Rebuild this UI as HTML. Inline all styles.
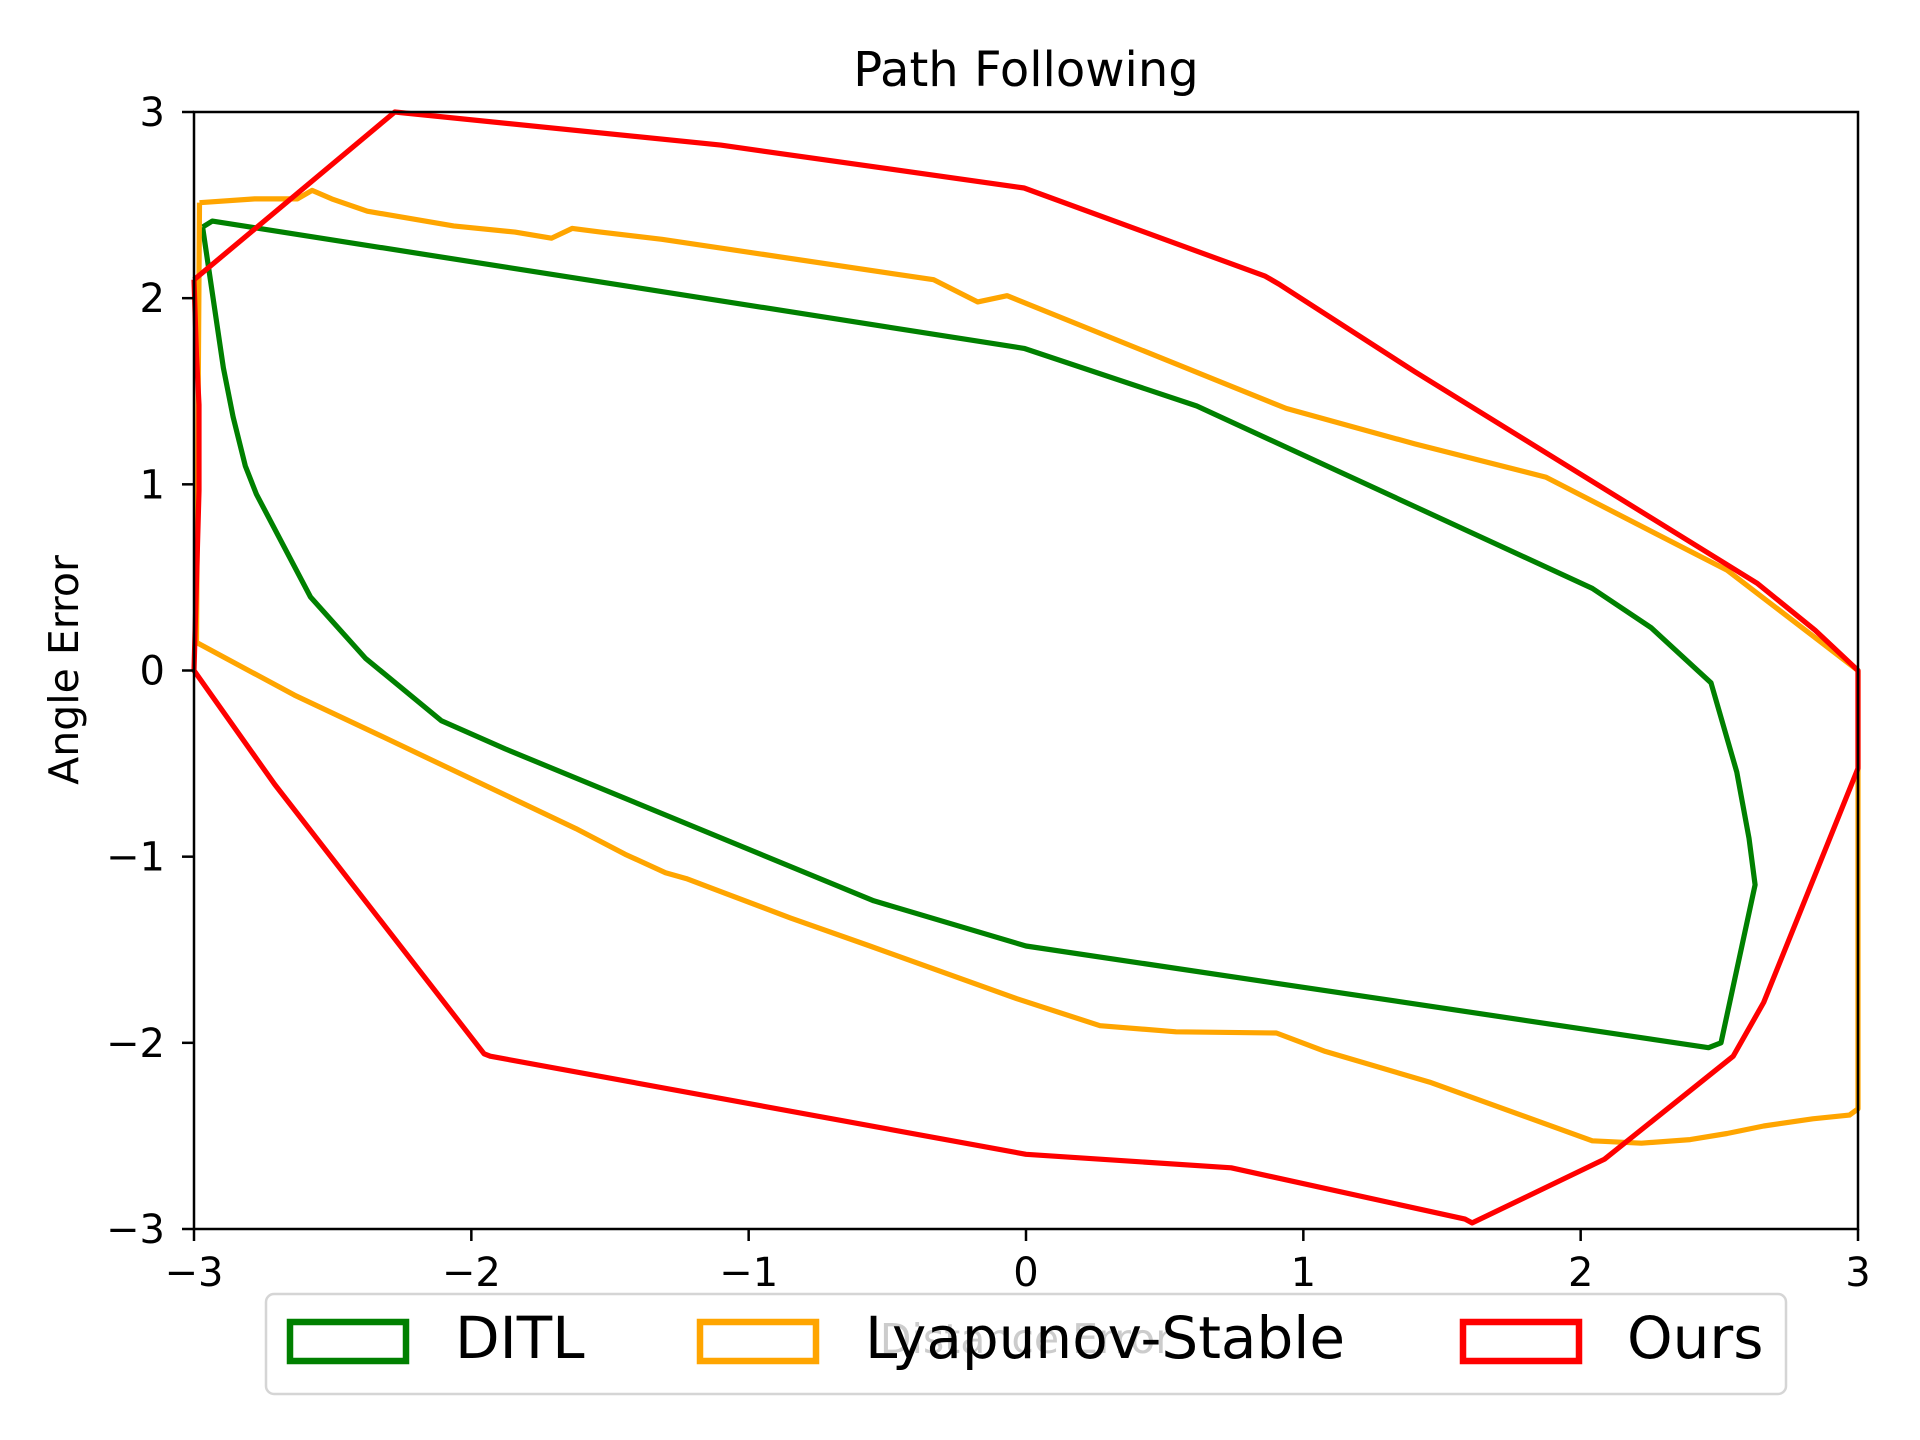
<!DOCTYPE html>
<html><head><meta charset="utf-8"><style>
html,body{margin:0;padding:0;background:#fff;}
svg{display:block;font-family:"DejaVu Sans","Liberation Sans",sans-serif;}
</style></head><body>
<svg id="chart" width="1920" height="1440" viewBox="0 0 1920 1440" xmlns="http://www.w3.org/2000/svg">
<rect width="1920" height="1440" fill="#fff"/>
<text x="1026" y="86" font-size="48" text-anchor="middle">Path Following</text>
<text x="0" y="0" font-size="41" text-anchor="middle" transform="translate(78,670) rotate(-90)">Angle Error</text>
<text x="1026" y="1353" font-size="41" text-anchor="middle">Distance Error</text>
<g id="series"></g>
<rect x="194" y="112" width="1664" height="1117" fill="none" stroke="#000" stroke-width="2.5"/>
<g id="ticks"></g>
<g>
<rect x="266" y="1294" width="1520" height="100" rx="8" fill="rgba(255,255,255,0.8)" stroke="#d5d5d5" stroke-width="2.5"/>
<rect x="290" y="1322" width="116" height="39" fill="none" stroke="green" stroke-width="6.5"/>
<text x="455" y="1358" font-size="58">DITL</text>
<rect x="700" y="1322" width="116" height="39" fill="none" stroke="orange" stroke-width="6.5"/>
<text x="865" y="1358" font-size="58">Lyapunov-Stable</text>
<rect x="1463" y="1322" width="116" height="39" fill="none" stroke="red" stroke-width="6.5"/>
<text x="1627" y="1358" font-size="58">Ours</text>
</g>
</svg>
<script>
const xTicks = [-3,-2,-1,0,1,2,3];
const yTicks = [-3,-2,-1,0,1,2,3];
const ditlX = [-2.969,-2.934,-0.007,0.616,2.042,2.254,2.470,2.563,2.607,2.629,2.506,2.461,0,-0.549,-1.878,-2.108,-2.382,-2.580,-2.775,-2.815,-2.859,-2.894,-2.969];
const ditlY = [2.382,2.414,1.730,1.421,0.441,0.230,-0.066,-0.546,-0.901,-1.151,-2.0,-2.026,-1.480,-1.237,-0.421,-0.270,0.066,0.395,0.947,1.099,1.362,1.625,2.382];
const lyapX = [-2.980,-2.781,-2.627,-2.574,-2.503,-2.375,-2.064,-1.843,-1.711,-1.636,-1.534,-1.313,-0.333,-0.174,-0.068,0.938,1.402,1.874,2.528,3.0,3.0,2.969,2.837,2.660,2.528,2.395,2.219,2.042,1.455,1.079,0.903,0.541,0.267,-0.033,-0.563,-0.850,-1.225,-1.300,-1.446,-1.623,-2.329,-2.638,-2.991,-2.980];
const lyapY = [2.513,2.533,2.533,2.579,2.533,2.467,2.388,2.355,2.322,2.375,2.355,2.316,2.099,1.980,2.013,1.408,1.217,1.039,0.539,0,-2.355,-2.388,-2.408,-2.447,-2.487,-2.520,-2.539,-2.526,-2.211,-2.046,-1.947,-1.941,-1.908,-1.763,-1.480,-1.329,-1.118,-1.086,-0.987,-0.849,-0.349,-0.132,0.151,2.513];
const oursX = [-3,-2.276,-1.101,-0.007,0.863,0.916,1.402,2.638,2.845,3,3,2.660,2.550,2.086,1.609,1.583,0.740,0,-1.932,-1.954,-2.709,-3,-2.982,-2.982,-2.991,-3];
const oursY = [2.099,3.0,2.822,2.592,2.118,2.072,1.605,0.467,0.217,0,-0.526,-1.783,-2.072,-2.625,-2.967,-2.947,-2.671,-2.599,-2.072,-2.059,-0.612,0,0.967,1.428,1.691,2.099];

const X0=194,X1=1858,Y0=1229,Y1=112;
function sx(v){return X0+(v+3)/6*(X1-X0);}
function sy(v){return Y0-(v+3)/6*(Y0-Y1);}
const NS="http://www.w3.org/2000/svg";
const sg=document.getElementById('series');
function addLine(xs,ys,color,name){
  const p=document.createElementNS(NS,'polyline');
  p.setAttribute('points',xs.map((x,i)=>sx(x).toFixed(1)+','+sy(ys[i]).toFixed(1)).join(' '));
  p.setAttribute('fill','none');p.setAttribute('stroke',color);
  p.setAttribute('stroke-width','5.2');p.setAttribute('stroke-linejoin','round');
  
  
  sg.appendChild(p);
}
addLine(ditlX,ditlY,'green','ditl-line');
addLine(lyapX,lyapY,'orange','lyapunov-stable-line');
addLine(oursX,oursY,'red','ours-line');
const tg=document.getElementById('ticks');
xTicks.forEach(t=>{
  const l=document.createElementNS(NS,'line');
  l.setAttribute('x1',sx(t));l.setAttribute('x2',sx(t));l.setAttribute('y1',Y0);l.setAttribute('y2',Y0+12);
  l.setAttribute('stroke','#000');l.setAttribute('stroke-width','2.5');
  
  
  tg.appendChild(l);
  const tx=document.createElementNS(NS,'text');
  tx.setAttribute('x',sx(t));tx.setAttribute('y',Y0+57);tx.setAttribute('font-size','40');tx.setAttribute('text-anchor','middle');
  tx.textContent=(t<0?'\u2212'+(-t):String(t));
  
  
  tg.appendChild(tx);
});
yTicks.forEach(t=>{
  const l=document.createElementNS(NS,'line');
  l.setAttribute('x1',X0-12);l.setAttribute('x2',X0);l.setAttribute('y1',sy(t));l.setAttribute('y2',sy(t));
  l.setAttribute('stroke','#000');l.setAttribute('stroke-width','2.5');
  
  
  tg.appendChild(l);
  const tx=document.createElementNS(NS,'text');
  tx.setAttribute('x',X0-29);tx.setAttribute('y',sy(t)+14);tx.setAttribute('font-size','40');tx.setAttribute('text-anchor','end');
  tx.textContent=(t<0?'\u2212'+(-t):String(t));
  
  
  tg.appendChild(tx);
});
</script>
</body></html>
